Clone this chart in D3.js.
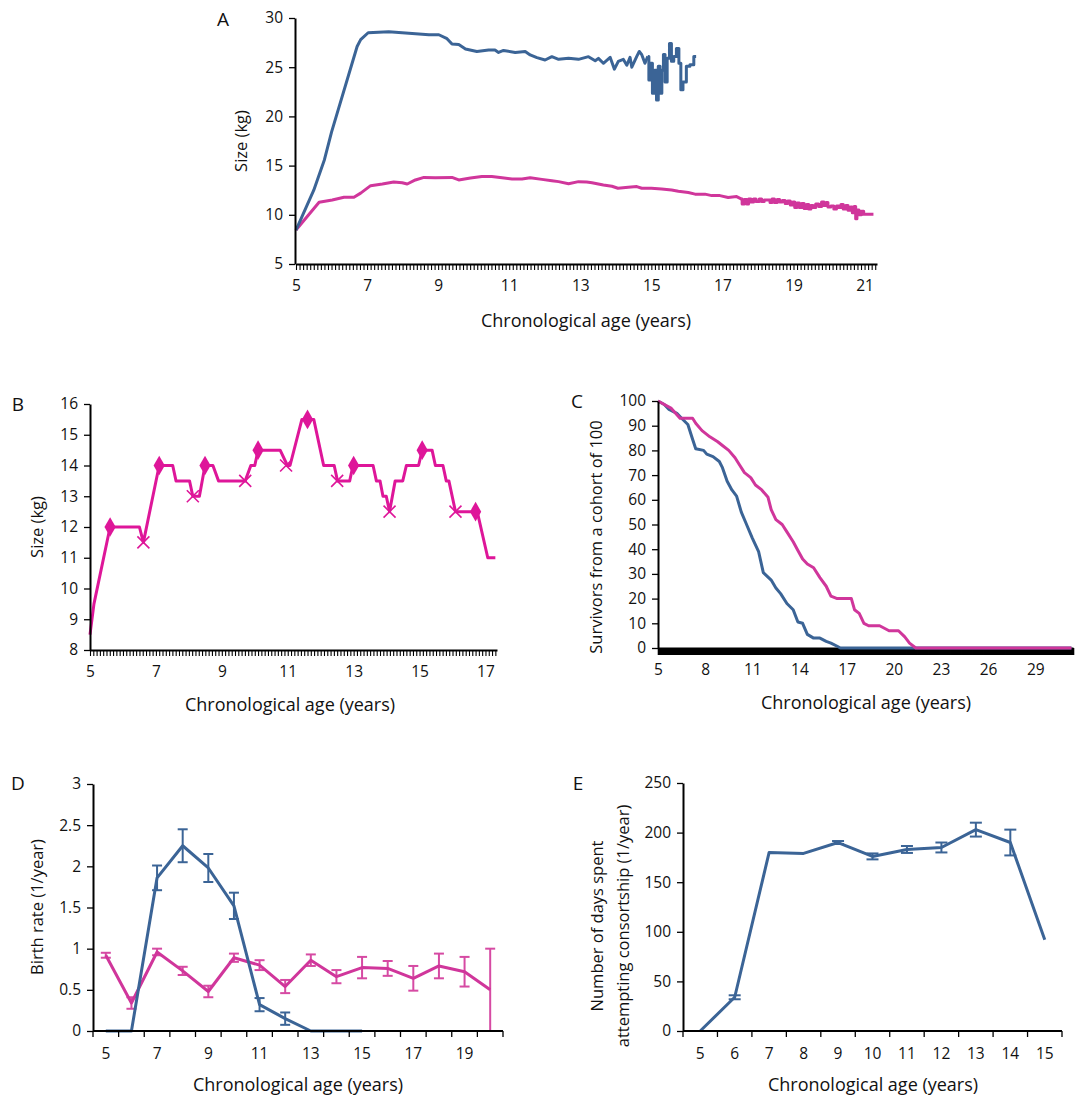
<!DOCTYPE html>
<html>
<head>
<meta charset="utf-8">
<script src="https://cdn.jsdelivr.net/npm/d3@7"></script>
<style>
  body { margin: 0; background: #fff; }
  text { font-family: "Open Sans", Lato, sans-serif; fill: #111; }
</style>
</head>
<body>
<svg id="fig" width="1082" height="1099"></svg>
<script>
// ---- data ----
// A: mean size by age, [age, kg]
const sizeBlueA = [[5, 8.45], [5.5, 12.5], [5.8, 15.6], [6.0, 18.4], [6.72, 27.1], [6.82, 27.8], [7.03, 28.5], [7.61, 28.6],
  [8.74, 28.3], [9.02, 28.3], [9.25, 27.9], [9.39, 27.35], [9.58, 27.3], [9.77, 26.85], [10.09, 26.6], [10.42, 26.75],
  [10.6, 26.75], [10.7, 26.5], [10.84, 26.7], [11.17, 26.5], [11.45, 26.6], [11.59, 26.25], [11.78, 25.97], [12.01, 25.73],
  [12.2, 26.07], [12.39, 25.8], [12.67, 25.9], [12.95, 25.8], [13.23, 26.07], [13.42, 25.66], [13.51, 25.9], [13.65, 25.4],
  [13.84, 26.0], [13.96, 24.8], [14.07, 25.6], [14.21, 25.8], [14.31, 25.2], [14.4, 26.0], [14.45, 25.0], [14.59, 26.1],
  [14.66, 26.6], [14.73, 26.27], [14.82, 25.4], [14.9, 26.1], [14.96, 23.7], [15.0, 25.4], [15.06, 22.35], [15.12, 24.7],
  [15.17, 21.67], [15.22, 25.1], [15.27, 22.35], [15.32, 24.7], [15.36, 26.3], [15.41, 23.5], [15.48, 25.9], [15.54, 27.4],
  [15.59, 25.6], [15.67, 26.1], [15.74, 26.9], [15.81, 25.4], [15.85, 22.7], [15.93, 23.5], [16.04, 25.1], [16.13, 25.25],
  [16.26, 26.1]]
const sizePinkA = [[5, 8.45], [5.65, 11.27], [6.02, 11.5], [6.35, 11.78], [6.63, 11.78], [6.82, 12.2], [7.1, 12.96], [7.43, 13.13],
  [7.75, 13.33], [7.99, 13.26], [8.13, 13.13], [8.36, 13.54], [8.6, 13.8], [8.92, 13.77], [9.39, 13.8], [9.58, 13.54],
  [9.91, 13.74], [10.23, 13.9], [10.51, 13.9], [10.8, 13.77], [11.08, 13.64], [11.36, 13.64], [11.59, 13.77], [11.92, 13.6],
  [12.2, 13.47], [12.39, 13.37], [12.67, 13.16], [12.95, 13.37], [13.18, 13.33], [13.33, 13.26], [13.65, 13.03], [13.89, 12.9],
  [14.06, 12.7], [14.35, 12.8], [14.59, 12.87], [14.73, 12.7], [15.0, 12.7], [15.29, 12.63], [15.57, 12.53], [15.76, 12.4],
  [16.04, 12.26], [16.23, 12.1], [16.51, 12.1], [16.7, 11.95], [16.93, 11.95], [17.16, 11.75], [17.4, 11.85], [17.54, 11.6],
  [17.57, 11.1], [17.66, 11.55], [17.71, 11.1], [17.76, 11.6], [17.85, 11.3], [17.9, 11.6], [17.99, 11.35], [18.08, 11.6],
  [18.13, 11.35], [18.22, 11.5], [18.32, 11.5], [18.36, 11.25], [18.43, 11.6], [18.5, 11.25], [18.58, 11.55], [18.64, 11.3],
  [18.73, 11.45], [18.8, 11.15], [18.87, 11.4], [18.95, 11.0], [19.01, 11.3], [19.06, 10.75], [19.13, 11.2], [19.2, 10.75],
  [19.26, 11.15], [19.34, 10.65], [19.4, 11.05], [19.46, 10.6], [19.52, 10.95], [19.59, 10.75], [19.66, 11.1], [19.76, 10.85],
  [19.82, 11.3], [19.9, 10.95], [19.94, 11.25], [20.0, 10.8], [20.1, 10.9], [20.17, 10.6], [20.25, 10.9], [20.31, 10.75],
  [20.36, 11.05], [20.44, 10.6], [20.5, 10.95], [20.57, 10.45], [20.64, 10.8], [20.67, 10.2], [20.74, 10.85], [20.76, 9.6],
  [20.81, 10.5], [20.88, 10.0], [20.94, 10.35], [21.01, 10.05], [21.25, 10.05]]
const ticksA = [5, 7, 9, 11, 13, 15, 17, 19, 21]
const yTicksA = [5, 10, 15, 20, 25, 30]
// ages after which the sample is thin and the curve becomes jagged
const noisyFromBlueA = 14.9
const noisyFromPinkA = 17.54

// B: one individual's size, [age, kg]
const sizeB = [[5, 8.5], [5.12, 9.5], [5.61, 12], [6.5, 12], [6.62, 11.5], [7.1, 14], [7.51, 14], [7.61, 13.5], [8.02, 13.5],
  [8.12, 13], [8.32, 13], [8.49, 14], [8.73, 14], [8.9, 13.5], [9.71, 13.5], [9.88, 14], [10.0, 14], [10.1, 14.5],
  [10.77, 14.5], [10.99, 14], [11.07, 14], [11.43, 15.5], [11.79, 15.5], [12.09, 14], [12.41, 14], [12.51, 13.5],
  [12.88, 13.5], [12.98, 14], [13.59, 14], [13.69, 13.5], [13.8, 13.5], [13.89, 13], [13.99, 13], [14.09, 12.5],
  [14.26, 13.5], [14.49, 13.5], [14.6, 14], [14.97, 14], [15.08, 14.5], [15.38, 14.5], [15.48, 14], [15.71, 14],
  [15.81, 13.5], [15.89, 13.5], [16.09, 12.5], [16.75, 12.5], [17.07, 11], [17.3, 11]]
const diamondsB = [[5.61, 12], [7.1, 14], [8.49, 14], [10.1, 14.5], [11.6, 15.5], [13.0, 14], [15.08, 14.5], [16.7, 12.5]]
const crossesB = [[6.62, 11.5], [8.12, 13], [9.71, 13.5], [10.95, 14], [12.5, 13.5], [14.09, 12.5], [16.09, 12.5]]
const ticksB = [5, 7, 9, 11, 13, 15, 17]
const yTicksB = [8, 9, 10, 11, 12, 13, 14, 15, 16]

// C: survivors, [age, count]
const survBlueC = [[5, 100], [5.4, 98.6], [5.7, 96.6], [6.2, 95], [6.5, 93], [6.9, 90.5], [7.2, 84.5], [7.4, 80.7], [7.9, 80],
  [8.1, 78.5], [8.5, 77.5], [8.9, 75.5], [9.1, 73], [9.4, 67.5], [9.7, 64], [10.0, 61.5], [10.3, 55], [10.6, 50.5],
  [11.0, 44.5], [11.4, 39], [11.7, 30.5], [12.2, 27.5], [12.5, 24.3], [12.8, 22], [13.2, 18], [13.6, 15.5], [13.9, 10.5],
  [14.2, 10], [14.5, 5.5], [14.9, 4], [15.3, 4], [15.7, 2.7], [16.0, 2], [16.4, 0.7], [16.6, 0], [31.3, 0]]
const survPinkC = [[5, 100], [5.85, 97], [6.4, 93], [7.2, 93], [7.4, 91], [7.8, 88], [8.3, 85.5], [8.8, 83.5], [9.1, 82],
  [9.5, 80], [9.9, 77], [10.2, 74], [10.5, 71], [10.9, 69], [11.2, 66], [11.6, 64], [12.0, 61], [12.2, 56], [12.5, 52],
  [12.9, 50], [13.2, 47], [13.6, 43], [13.9, 39.5], [14.2, 36], [14.5, 34], [14.9, 32.5], [15.3, 28.5], [15.7, 25],
  [16.0, 21], [16.4, 20], [17.3, 20], [17.5, 15.5], [17.8, 14], [18.1, 10], [18.4, 9], [19.1, 9], [19.4, 8], [19.7, 7],
  [20.3, 7], [20.7, 4.5], [21.0, 2], [21.4, 0], [31.3, 0]]
const ticksC = [5, 8, 11, 14, 17, 20, 23, 26, 29]
const yTicksC = [0, 10, 20, 30, 40, 50, 60, 70, 80, 90, 100]

// D: birth rate by age class
const agesD = [5, 6, 7, 8, 9, 10, 11, 12, 13, 14, 15, 16, 17, 18, 19, 20]
const blueAgesD = [5, 6, 7, 8, 9, 10, 11, 12, 13, 14, 15]
const birthBlueD = [0, 0, 1.86, 2.25, 1.98, 1.52, 0.32, 0.15, 0, 0, 0]
const errBlueD = [0, 0, 0.15, 0.2, 0.17, 0.16, 0.08, 0.075, 0, 0, 0]
const birthPinkD = [0.92, 0.34, 0.96, 0.73, 0.48, 0.89, 0.8, 0.54, 0.86, 0.66, 0.77, 0.76, 0.64, 0.79, 0.72, 0.5]
const errPinkD = [0.03, 0.07, 0.04, 0.05, 0.07, 0.05, 0.06, 0.08, 0.07, 0.08, 0.13, 0.09, 0.15, 0.15, 0.18, 0.5]
const labelsD = [5, 7, 9, 11, 13, 15, 17, 19]
const yTicksD = [0, 0.5, 1, 1.5, 2, 2.5, 3]

// E: days attempting consortship
const agesE = [5, 6, 7, 8, 9, 10, 11, 12, 13, 14, 15]
const daysE = [0, 34, 180, 179, 190, 176, 183, 185, 203, 190, 92]
const errE = [0, 2, 0, 0, 1.5, 3, 3.5, 5, 7, 13, 0]
const yTicksE = [0, 50, 100, 150, 200, 250]

const BLUE = '#3b6496'
const PINK = '#d0369b'
const MAGENTA = '#de1699'
const TICK_FONT = 15.5
const YTITLE_FONT = 16.5
const XTITLE_FONT = 18

const svg = d3.select('#fig')
svg.append('rect').attr('width', 1082).attr('height', 1099).attr('fill', '#fff')

function styleAxis (g) {
  g.attr('font-size', null).attr('font-family', null)
  g.select('.domain').attr('stroke', '#000').attr('stroke-width', 2)
  g.selectAll('.tick line').attr('stroke', '#000').attr('stroke-width', 1.3)
  g.selectAll('.tick text').style('font-size', TICK_FONT + 'px')
  return g
}

function leftAxis (y, x0, ticks, fmt) {
  const g = svg.append('g').attr('transform', `translate(${x0},0)`)
    .call(d3.axisLeft(y).tickValues(ticks).tickSize(6).tickPadding(6).tickSizeOuter(0).tickFormat(fmt || d3.format('')))
  return styleAxis(g)
}

// comb of tiny ticks + labelled years underneath (Excel style axis)
function combAxis (x, y0, combTicks, labelTicks, combSize, combWidth) {
  const g = svg.append('g').attr('transform', `translate(0,${y0})`)
    .call(d3.axisBottom(x).tickValues(combTicks).tickSize(combSize).tickSizeOuter(0).tickFormat(''))
  styleAxis(g)
  g.selectAll('.tick line').attr('stroke-width', combWidth || 1.1)
  const l = svg.append('g').attr('transform', `translate(0,${y0})`)
    .call(d3.axisBottom(x).tickValues(labelTicks).tickSize(0).tickPadding(16).tickFormat(d3.format('')))
  styleAxis(l)
  l.select('.domain').remove()
}

function title (txt, x, y, rot) {
  svg.append('text').attr('transform', `translate(${x},${y})` + (rot ? ' rotate(-90)' : ''))
    .attr('text-anchor', 'middle').attr('dy', '0.35em')
    .style('font-size', (rot ? YTITLE_FONT : XTITLE_FONT) + 'px').text(txt)
}

function letter (txt, x, y) {
  svg.append('text').attr('x', x).attr('y', y).attr('text-anchor', 'middle').attr('dy', '0.35em')
    .style('font-size', '19px').text(txt)
}

function drawLine (data, x, y, color, curve) {
  svg.append('path').datum(data)
    .attr('d', d3.line().curve(curve || d3.curveLinear).x(d => x(d[0])).y(d => y(d[1])))
    .attr('fill', 'none').attr('stroke', color).attr('stroke-width', 3)
    .attr('stroke-linejoin', 'round')
}

// smooth part as a line, jagged tail as steps (shared point so they join)
function splitLine (data, from, x, y, color) {
  const i = d3.bisector(d => d[0]).left(data, from)
  drawLine(data.slice(0, i + 1), x, y, color)
  drawLine(data.slice(i), x, y, color, d3.curveStep)
}

// ---------- A ----------
{
  const x = d3.scaleLinear().domain([5, 21.35]).range([296, 877])
  const y = d3.scaleLinear().domain([5, 30]).range([264, 18])
  splitLine(sizePinkA, noisyFromPinkA, x, y, PINK)
  splitLine(sizeBlueA, noisyFromBlueA, x, y, BLUE)
  combAxis(x, 264, d3.range(50, 214).map(d => d / 10), ticksA, 6)
  leftAxis(y, 295, yTicksA)
  title('Size (kg)', 241, 141, true)
  title('Chronological age (years)', 586, 321, false)
  letter('A', 223, 19)
}

// ---------- B ----------
{
  const x = d3.scaleLinear().domain([5, 17.35]).range([90, 497])
  const y = d3.scaleLinear().domain([8, 16]).range([650, 404])
  drawLine(sizeB, x, y, MAGENTA)
  svg.append('g').selectAll('path').data(diamondsB).join('path')
    .attr('transform', d => `translate(${x(d[0])},${y(d[1])})`)
    .attr('d', d3.symbol(d3.symbolDiamond, 110)).attr('fill', MAGENTA)
  svg.append('g').selectAll('path').data(crossesB).join('path')
    .attr('transform', d => `translate(${x(d[0])},${y(d[1])})`)
    .attr('d', 'M-6,-6L6,6M-6,6L6,-6').attr('stroke', MAGENTA).attr('stroke-width', 1.6)
  combAxis(x, 650, d3.range(50, 174).map(d => d / 10), ticksB, 6)
  leftAxis(y, 90, yTicksB)
  title('Size (kg)', 37, 527, true)
  title('Chronological age (years)', 290, 705, false)
  letter('B', 18, 404)
}

// ---------- C ----------
{
  const x = d3.scaleLinear().domain([5, 31.4]).range([658, 1073])
  const y = d3.scaleLinear().domain([0, 100]).range([648, 401])
  combAxis(x, 648, d3.range(100, 629).map(d => d / 20), ticksC, 7, 1.6)
  drawLine(survBlueC, x, y, BLUE)
  drawLine(survPinkC, x, y, PINK)
  leftAxis(y, 658, yTicksC)
  title('Survivors from a cohort of 100', 596, 537, true)
  title('Chronological age (years)', 866, 703, false)
  letter('C', 577, 401)
}

// ---------- D ----------
{
  const x = d3.scaleBand().domain(agesD).range([93, 503])
  const cx = a => x(a) + x.bandwidth() / 2
  const y = d3.scaleLinear().domain([0, 3]).range([1031, 784])
  const pink = agesD.map((a, i) => [a, birthPinkD[i], errPinkD[i]])
  const blue = blueAgesD.map((a, i) => [a, birthBlueD[i], errBlueD[i]])
  const bars = (data, color) => {
    const g = svg.append('g').attr('stroke', color).attr('stroke-width', 2)
    data.filter(d => d[2] > 0).forEach(d => {
      g.append('line').attr('x1', cx(d[0])).attr('x2', cx(d[0])).attr('y1', y(d[1] - d[2])).attr('y2', y(d[1] + d[2]))
      g.append('line').attr('x1', cx(d[0]) - 5).attr('x2', cx(d[0]) + 5).attr('y1', y(d[1] - d[2])).attr('y2', y(d[1] - d[2]))
      g.append('line').attr('x1', cx(d[0]) - 5).attr('x2', cx(d[0]) + 5).attr('y1', y(d[1] + d[2])).attr('y2', y(d[1] + d[2]))
    })
  }
  const line = d3.line().x(d => cx(d[0])).y(d => y(d[1]))
  bars(pink, '#d64aa3')
  svg.append('path').attr('d', line(pink)).attr('fill', 'none').attr('stroke', PINK).attr('stroke-width', 3).attr('stroke-linejoin', 'round')
  bars(blue, BLUE)
  svg.append('path').attr('d', line(blue)).attr('fill', 'none').attr('stroke', BLUE).attr('stroke-width', 3).attr('stroke-linejoin', 'round')

  const ticks = agesD.map(a => x(a)).concat([503])
  const g = svg.append('g').attr('transform', 'translate(0,1031)')
  g.append('line').attr('x1', 93).attr('x2', 503).attr('stroke', '#000').attr('stroke-width', 2)
  g.selectAll('.tk').data(ticks).join('line').attr('class', 'tk')
    .attr('x1', d => d).attr('x2', d => d).attr('y1', 0).attr('y2', 6).attr('stroke', '#000').attr('stroke-width', 1.3)
  g.selectAll('.lb').data(labelsD).join('text').attr('class', 'lb')
    .attr('x', d => cx(d)).attr('y', 23).attr('text-anchor', 'middle').attr('dy', '0.35em')
    .style('font-size', TICK_FONT + 'px').text(d => d)
  leftAxis(y, 93, yTicksD, d3.format(''))
  title('Birth rate (1/year)', 37, 907, true)
  title('Chronological age (years)', 298, 1085, false)
  letter('D', 18, 783)
}

// ---------- E ----------
{
  const x = d3.scaleBand().domain(agesE).range([683, 1062])
  const cx = a => x(a) + x.bandwidth() / 2
  const y = d3.scaleLinear().domain([0, 250]).range([1031, 783])
  const data = agesE.map((a, i) => [a, daysE[i], errE[i]])
  const g0 = svg.append('g').attr('stroke', BLUE).attr('stroke-width', 2)
  data.filter(d => d[2] > 0).forEach(d => {
    g0.append('line').attr('x1', cx(d[0])).attr('x2', cx(d[0])).attr('y1', y(d[1] - d[2])).attr('y2', y(d[1] + d[2]))
    g0.append('line').attr('x1', cx(d[0]) - 6).attr('x2', cx(d[0]) + 6).attr('y1', y(d[1] - d[2])).attr('y2', y(d[1] - d[2]))
    g0.append('line').attr('x1', cx(d[0]) - 6).attr('x2', cx(d[0]) + 6).attr('y1', y(d[1] + d[2])).attr('y2', y(d[1] + d[2]))
  })
  svg.append('path').attr('d', d3.line().x(d => cx(d[0])).y(d => y(d[1]))(data))
    .attr('fill', 'none').attr('stroke', BLUE).attr('stroke-width', 3).attr('stroke-linejoin', 'round')

  const ticks = agesE.map(a => x(a)).concat([1062])
  const g = svg.append('g').attr('transform', 'translate(0,1031)')
  g.append('line').attr('x1', 683).attr('x2', 1062).attr('stroke', '#000').attr('stroke-width', 2)
  g.selectAll('.tk').data(ticks).join('line').attr('class', 'tk')
    .attr('x1', d => d).attr('x2', d => d).attr('y1', 0).attr('y2', 6).attr('stroke', '#000').attr('stroke-width', 1.3)
  g.selectAll('.lb').data(agesE).join('text').attr('class', 'lb')
    .attr('x', d => cx(d)).attr('y', 23).attr('text-anchor', 'middle').attr('dy', '0.35em')
    .style('font-size', TICK_FONT + 'px').text(d => d)
  leftAxis(y, 683, yTicksE)
  title('Number of days spent', 597, 926, true)
  title('attempting consortship (1/year)', 623, 926, true)
  title('Chronological age (years)', 873, 1085, false)
  letter('E', 578, 783)
}
</script>
</body>
</html>
